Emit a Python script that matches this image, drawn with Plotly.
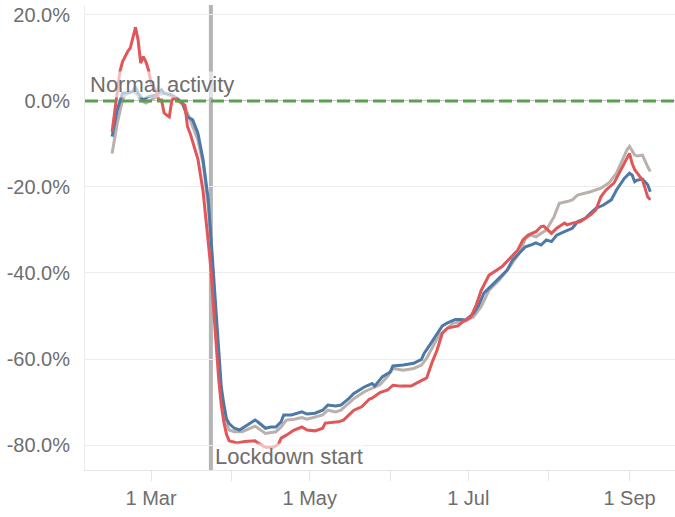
import plotly.graph_objects as go

# activity change vs. baseline, in percent
red_dates = [
    "2020-02-15", "2020-02-18", "2020-02-19", "2020-02-21", "2020-02-22", "2020-02-23",
    "2020-02-24", "2020-02-25", "2020-02-26", "2020-02-27", "2020-02-28", "2020-02-29",
    "2020-03-01", "2020-03-03", "2020-03-04", "2020-03-05", "2020-03-06", "2020-03-07",
    "2020-03-08", "2020-03-09", "2020-03-10", "2020-03-12", "2020-03-14", "2020-03-15",
    "2020-03-16", "2020-03-17", "2020-03-19", "2020-03-21", "2020-03-22", "2020-03-23",
    "2020-03-24", "2020-03-25", "2020-03-26", "2020-03-27", "2020-03-28", "2020-03-29",
    "2020-03-30", "2020-03-31", "2020-04-03", "2020-04-06", "2020-04-10", "2020-04-11",
    "2020-04-14", "2020-04-17", "2020-04-19", "2020-04-20", "2020-04-22", "2020-04-25",
    "2020-04-28", "2020-04-30", "2020-05-03", "2020-05-06", "2020-05-07", "2020-05-09",
    "2020-05-12", "2020-05-14", "2020-05-16", "2020-05-18", "2020-05-21", "2020-05-24",
    "2020-05-25", "2020-05-28", "2020-05-31", "2020-06-02", "2020-06-05", "2020-06-09",
    "2020-06-12", "2020-06-15", "2020-06-17", "2020-06-19", "2020-06-21", "2020-06-23",
    "2020-06-27", "2020-06-29", "2020-07-02", "2020-07-04", "2020-07-06", "2020-07-09",
    "2020-07-12", "2020-07-14", "2020-07-17", "2020-07-20", "2020-07-22", "2020-07-24",
    "2020-07-27", "2020-07-29", "2020-07-30", "2020-08-01", "2020-08-02", "2020-08-04",
    "2020-08-07", "2020-08-08", "2020-08-10", "2020-08-13", "2020-08-15", "2020-08-17",
    "2020-08-19", "2020-08-21", "2020-08-23", "2020-08-26", "2020-08-28", "2020-08-30",
    "2020-09-01", "2020-09-02", "2020-09-03", "2020-09-04", "2020-09-06", "2020-09-08",
    "2020-09-09",
]
red_vals = [
    -7.2, 6.8, 9.1, 11.5, 12.3, 14.6,
    17.1, 14.2, 8.8, 10.3, 9.1, 7.2,
    4.2, 2.2, 0.2, 0.2, -2.8, -3.3,
    -3.7, 0.2, 0.7, -0.2, -1.0, -6.0,
    -7.5, -9.5, -13.5, -21.0, -26.5, -32.3,
    -38.9, -48.0, -57.6, -64.7, -70.7, -74.7,
    -77.5, -79.0, -79.5, -79.2, -79.0, -79.5,
    -80.5, -80.5, -79.8, -78.4, -77.7, -76.5,
    -75.8, -76.5, -76.7, -76.1, -74.9, -74.8,
    -74.6, -74.2, -73.0, -71.9, -71.1, -69.3,
    -69.1, -67.8, -67.2, -66.1, -66.3, -66.3,
    -65.3, -64.4, -60.9, -57.9, -54.0, -52.8,
    -52.3, -51.3, -50.2, -47.5, -44.0, -40.5,
    -39.3, -38.5, -36.6, -34.7, -32.3, -31.2,
    -30.4, -29.2, -29.1, -30.4, -30.8, -29.6,
    -28.4, -28.8, -28.4, -28.1, -27.3, -26.5,
    -25.4, -22.3, -20.7, -19.1, -16.8, -14.5,
    -12.2, -14.5, -16.0, -16.8, -18.4, -22.3,
    -23.0,
]

blue_dates = [
    "2020-02-15", "2020-02-17", "2020-02-19", "2020-02-21", "2020-02-23", "2020-02-24",
    "2020-02-25", "2020-02-27", "2020-02-29", "2020-03-03", "2020-03-05", "2020-03-06",
    "2020-03-09", "2020-03-11", "2020-03-13", "2020-03-15", "2020-03-17", "2020-03-19",
    "2020-03-21", "2020-03-23", "2020-03-24", "2020-03-25", "2020-03-26", "2020-03-27",
    "2020-03-28", "2020-03-29", "2020-03-30", "2020-03-31", "2020-04-02", "2020-04-04",
    "2020-04-06", "2020-04-08", "2020-04-10", "2020-04-11", "2020-04-14", "2020-04-16",
    "2020-04-18", "2020-04-20", "2020-04-21", "2020-04-24", "2020-04-26", "2020-04-28",
    "2020-04-30", "2020-05-03", "2020-05-06", "2020-05-08", "2020-05-11", "2020-05-13",
    "2020-05-16", "2020-05-18", "2020-05-22", "2020-05-25", "2020-05-26", "2020-05-29",
    "2020-06-01", "2020-06-02", "2020-06-06", "2020-06-10", "2020-06-13", "2020-06-14",
    "2020-06-17", "2020-06-19", "2020-06-21", "2020-06-23", "2020-06-26", "2020-06-28",
    "2020-06-30", "2020-07-03", "2020-07-05", "2020-07-07", "2020-07-11", "2020-07-13",
    "2020-07-16", "2020-07-18", "2020-07-21", "2020-07-23", "2020-07-25", "2020-07-27",
    "2020-07-29", "2020-07-31", "2020-08-02", "2020-08-04", "2020-08-07", "2020-08-10",
    "2020-08-12", "2020-08-15", "2020-08-17", "2020-08-19", "2020-08-22", "2020-08-25",
    "2020-08-27", "2020-08-30", "2020-09-01", "2020-09-02", "2020-09-03", "2020-09-04",
    "2020-09-06", "2020-09-08", "2020-09-09",
]
blue_vals = [
    -8.3, -2.1, 1.8, 1.9, 2.2, 3.3,
    1.8, 0.2, 1.0, 1.4, 2.6, 1.8,
    1.4, 0.6, -0.5, -3.7, -4.4, -7.5,
    -13.7, -23.0, -31.4, -40.6, -50.1, -59.3,
    -66.5, -70.6, -73.9, -75.0, -76.1, -76.5,
    -75.8, -75.1, -74.2, -74.6, -76.1, -75.8,
    -75.8, -74.6, -73.0, -73.0, -72.6, -72.3,
    -72.8, -72.6, -71.9, -70.7, -70.9, -70.7,
    -69.2, -68.0, -66.5, -65.7, -66.3, -64.1,
    -63.0, -61.6, -61.4, -61.0, -60.1, -58.7,
    -56.0, -54.0, -52.3, -51.6, -50.8, -50.8,
    -50.9, -49.4, -47.5, -44.7, -42.4, -41.2,
    -39.3, -37.0, -35.0, -33.9, -33.5, -33.0,
    -33.5, -32.3, -32.7, -31.2, -30.4, -29.6,
    -28.1, -27.3, -26.1, -25.0, -24.2, -23.0,
    -20.7, -18.0, -16.8, -17.2, -18.8, -18.4,
    -18.2, -19.5, -21.1,
]

grey_dates = [
    "2020-02-15", "2020-02-17", "2020-02-19", "2020-02-20", "2020-02-23", "2020-02-25",
    "2020-02-26", "2020-02-28", "2020-03-01", "2020-03-04", "2020-03-06", "2020-03-11",
    "2020-03-14", "2020-03-16", "2020-03-19", "2020-03-21", "2020-03-23", "2020-03-24",
    "2020-03-25", "2020-03-26", "2020-03-27", "2020-03-28", "2020-03-29", "2020-03-30",
    "2020-03-31", "2020-04-02", "2020-04-05", "2020-04-08", "2020-04-10", "2020-04-14",
    "2020-04-18", "2020-04-20", "2020-04-22", "2020-04-25", "2020-04-28", "2020-04-30",
    "2020-05-06", "2020-05-08", "2020-05-11", "2020-05-13", "2020-05-16", "2020-05-18",
    "2020-05-22", "2020-05-25", "2020-05-28", "2020-05-31", "2020-06-02", "2020-06-06",
    "2020-06-10", "2020-06-13", "2020-06-15", "2020-06-18", "2020-06-20", "2020-06-23",
    "2020-06-25", "2020-06-28", "2020-06-30", "2020-07-03", "2020-07-06", "2020-07-09",
    "2020-07-13", "2020-07-17", "2020-07-21", "2020-07-23", "2020-07-25", "2020-07-27",
    "2020-07-29", "2020-07-31", "2020-08-03", "2020-08-05", "2020-08-08", "2020-08-10",
    "2020-08-12", "2020-08-15", "2020-08-17", "2020-08-21", "2020-08-24", "2020-08-27",
    "2020-08-29", "2020-08-31", "2020-09-01", "2020-09-03", "2020-09-04", "2020-09-06",
    "2020-09-08", "2020-09-09",
]
grey_vals = [
    -12.2, -5.2, 0.2, 1.4, 2.2, 1.4,
    0.2, -0.5, 0.2, 1.4, 1.8, 0.6,
    -1.3, -4.4, -9.1, -14.5, -24.5, -33.0,
    -42.5, -52.0, -61.0, -68.0, -72.0, -75.0,
    -76.5, -76.9, -76.9, -76.1, -75.6, -77.3,
    -76.9, -75.8, -74.2, -74.0, -73.6, -74.0,
    -73.0, -71.9, -72.3, -71.9, -70.3, -69.2,
    -67.6, -66.8, -66.0, -64.0, -62.2, -62.6,
    -62.2, -61.4, -59.8, -56.4, -54.4, -52.9,
    -51.7, -51.3, -51.1, -50.2, -47.8, -44.0,
    -41.6, -38.5, -35.0, -31.9, -31.2, -31.6,
    -30.8, -30.0, -26.9, -23.8, -23.4, -23.0,
    -21.9, -21.5, -21.1, -20.3, -19.1, -16.8,
    -14.1, -11.4, -10.6, -12.6, -12.8, -12.6,
    -15.3, -16.4,
]

lockdown_date = "2020-03-24"

y_ticks = [-80, -60, -40, -20, 0, 20]
y_labels = ["-80.0%", "-60.0%", "-40.0%", "-20.0%", "0.0%", "20.0%"]
x_ticks = ["2020-03-01", "2020-04-01", "2020-05-01", "2020-06-01",
           "2020-07-01", "2020-08-01", "2020-09-01"]
x_labels = ["1 Mar", "", "1 May", "", "1 Jul", "", "1 Sep"]

FONT = "Liberation Sans, Arial, sans-serif"
TXT = "#6e6e6e"

fig = go.Figure()
for dates, vals, col in [(grey_dates, grey_vals, "#bab0ac"),
                         (blue_dates, blue_vals, "#4e79a7"),
                         (red_dates, red_vals, "#e15759")]:
    fig.add_trace(go.Scatter(x=dates, y=vals, mode="lines",
                             line=dict(color=col, width=3), hoverinfo="skip"))

# lockdown marker and the zero reference line
fig.add_shape(type="line", xref="x", yref="paper", x0=lockdown_date, x1=lockdown_date,
              y0=0, y1=1, line=dict(color="#b4b4b4", width=4), layer="below")
fig.add_shape(type="line", xref="paper", yref="y", x0=0, x1=1, y0=0, y1=0,
              line=dict(color="#59a14f", width=3, dash="13px,5px"), layer="above")

fig.add_annotation(x="2020-02-06", y=0, xref="x", yref="y", text="Normal activity",
                   xanchor="left", yanchor="bottom", yshift=3, showarrow=False,
                   font=dict(family=FONT, size=22, color=TXT),
                   bgcolor="rgba(255,255,255,0.6)", borderpad=0)
fig.add_annotation(x=lockdown_date, y=0, xref="x", yref="paper", text="Lockdown start",
                   xanchor="left", yanchor="bottom", xshift=3, yshift=0, showarrow=False,
                   font=dict(family=FONT, size=22, color=TXT),
                   bgcolor="rgba(255,255,255,0.6)", borderpad=0)

fig.update_layout(
    width=675, height=517,
    margin=dict(l=85, r=0, t=5, b=47),
    paper_bgcolor="white", plot_bgcolor="white",
    showlegend=False,
    font=dict(family=FONT, color=TXT),
)
fig.update_xaxes(
    type="date", range=["2020-02-04 14:00", "2020-09-18 12:00"],
    tickvals=x_ticks, ticktext=x_labels, automargin=False,
    ticks="outside", ticklen=10, tickcolor="#e4e4e4",
    showgrid=False, showline=True, linecolor="#e4e4e4",
    tickfont=dict(family=FONT, size=20, color=TXT),
)
fig.update_yaxes(
    range=[-85.8, 22.3], automargin=False,
    tickvals=y_ticks, ticktext=y_labels,
    showgrid=True, gridcolor="#ececec", gridwidth=1,
    zeroline=True, zerolinecolor="#c8c8c8", zerolinewidth=1,
    showline=True, linecolor="#ececec",
    ticklabelstandoff=10,
    tickfont=dict(family=FONT, size=20, color=TXT),
)

# drop the default page margin so the figure sits at the window's corner
fig.write_html("out.html", config={"displayModeBar": False},
               post_script="document.body.style.margin = '0';")
